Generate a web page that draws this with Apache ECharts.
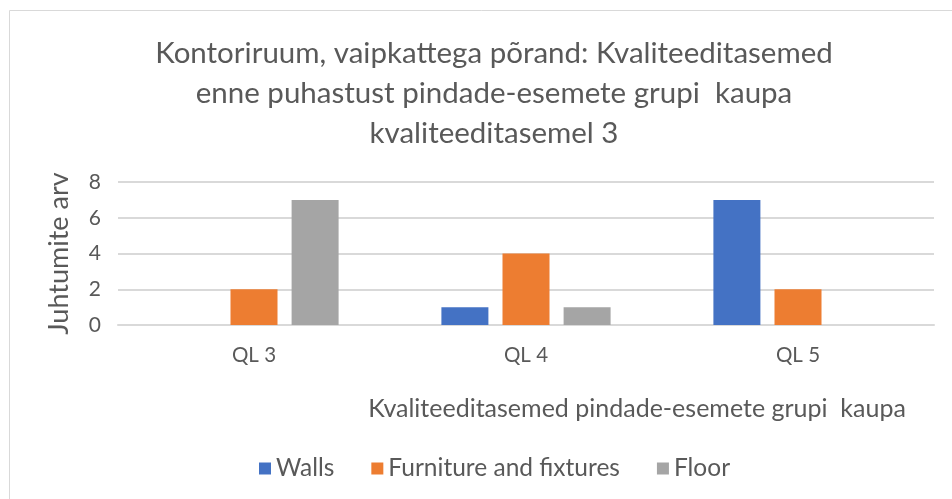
<!DOCTYPE html>
<html>
<head>
<meta charset="utf-8">
<script src="https://cdn.jsdelivr.net/npm/echarts@6/dist/echarts.min.js"></script>
<style>
  html, body { margin: 0; padding: 0; background: #fff; }
  #chart { width: 952px; height: 499px; }
</style>
</head>
<body>
<div id="chart"></div>
<script>
// values
const categories = ['QL 3', 'QL 4', 'QL 5'];
const walls = [0, 1, 7];
const furniture = [2, 4, 2];
const floor = [7, 1, 0];
const yTicks = [0, 2, 4, 6, 8];

const textColor = '#595959';
const font = 'Lato';

const chart = echarts.init(document.getElementById('chart'));
chart.setOption({
  animation: false,
  textStyle: { fontFamily: font, color: textColor },
  graphic: [{
    type: 'rect',
    shape: { x: 9.5, y: 10.5, width: 960, height: 500 },
    style: { fill: 'none', stroke: '#d9d9d9', lineWidth: 1 },
    silent: true,
  }],
  title: {
    text: 'Kontoriruum, vaipkattega põrand: Kvaliteeditasemed\nenne puhastust pindade-esemete grupi  kaupa\nkvaliteeditasemel 3',
    left: 489,
    top: 28,
    textAlign: 'center',
    textStyle: { fontFamily: font, fontSize: 29.5, fontWeight: 'normal', color: textColor, lineHeight: 40 },
  },
  legend: {
    top: 451,
    left: 254,
    itemWidth: 12,
    itemHeight: 12,
    itemGap: 37,
    icon: 'rect',
    textStyle: { fontFamily: font, fontSize: 24.5, color: textColor },
  },
  grid: { left: 118, right: 18, top: 182, bottom: 174 },
  xAxis: {
    type: 'category',
    data: categories,
    axisLine: { lineStyle: { color: '#d9d9d9', width: 2 } },
    axisTick: { show: false },
    axisLabel: { fontFamily: font, fontSize: 20.5, color: textColor, margin: 20 },
    name: 'Kvaliteeditasemed pindade-esemete grupi  kaupa',
    nameLocation: 'middle',
    nameGap: 71,
    nameTextStyle: { fontFamily: font, fontSize: 25, color: textColor, padding: [0, 0, 0, 222] },
  },
  yAxis: {
    type: 'value',
    min: yTicks[0],
    max: yTicks[yTicks.length - 1],
    interval: 2,
    axisLine: { show: false },
    axisTick: { show: false },
    splitLine: { lineStyle: { color: '#d9d9d9', width: 2 } },
    axisLabel: { fontFamily: font, fontSize: 21, color: textColor, margin: 17 },
    name: 'Juhtumite arv',
    nameLocation: 'middle',
    nameGap: 45,
    nameTextStyle: { fontFamily: font, fontSize: 27, color: textColor },
  },
  series: [
    { name: 'Walls', type: 'bar', data: walls, barWidth: 47, barGap: '30%', itemStyle: { color: '#4472C4' } },
    { name: 'Furniture and fixtures', type: 'bar', data: furniture, barWidth: 47, barGap: '30%', itemStyle: { color: '#ED7D31' } },
    { name: 'Floor', type: 'bar', data: floor, barWidth: 47, barGap: '30%', itemStyle: { color: '#A5A5A5' } },
  ],
});
</script>
</body>
</html>
